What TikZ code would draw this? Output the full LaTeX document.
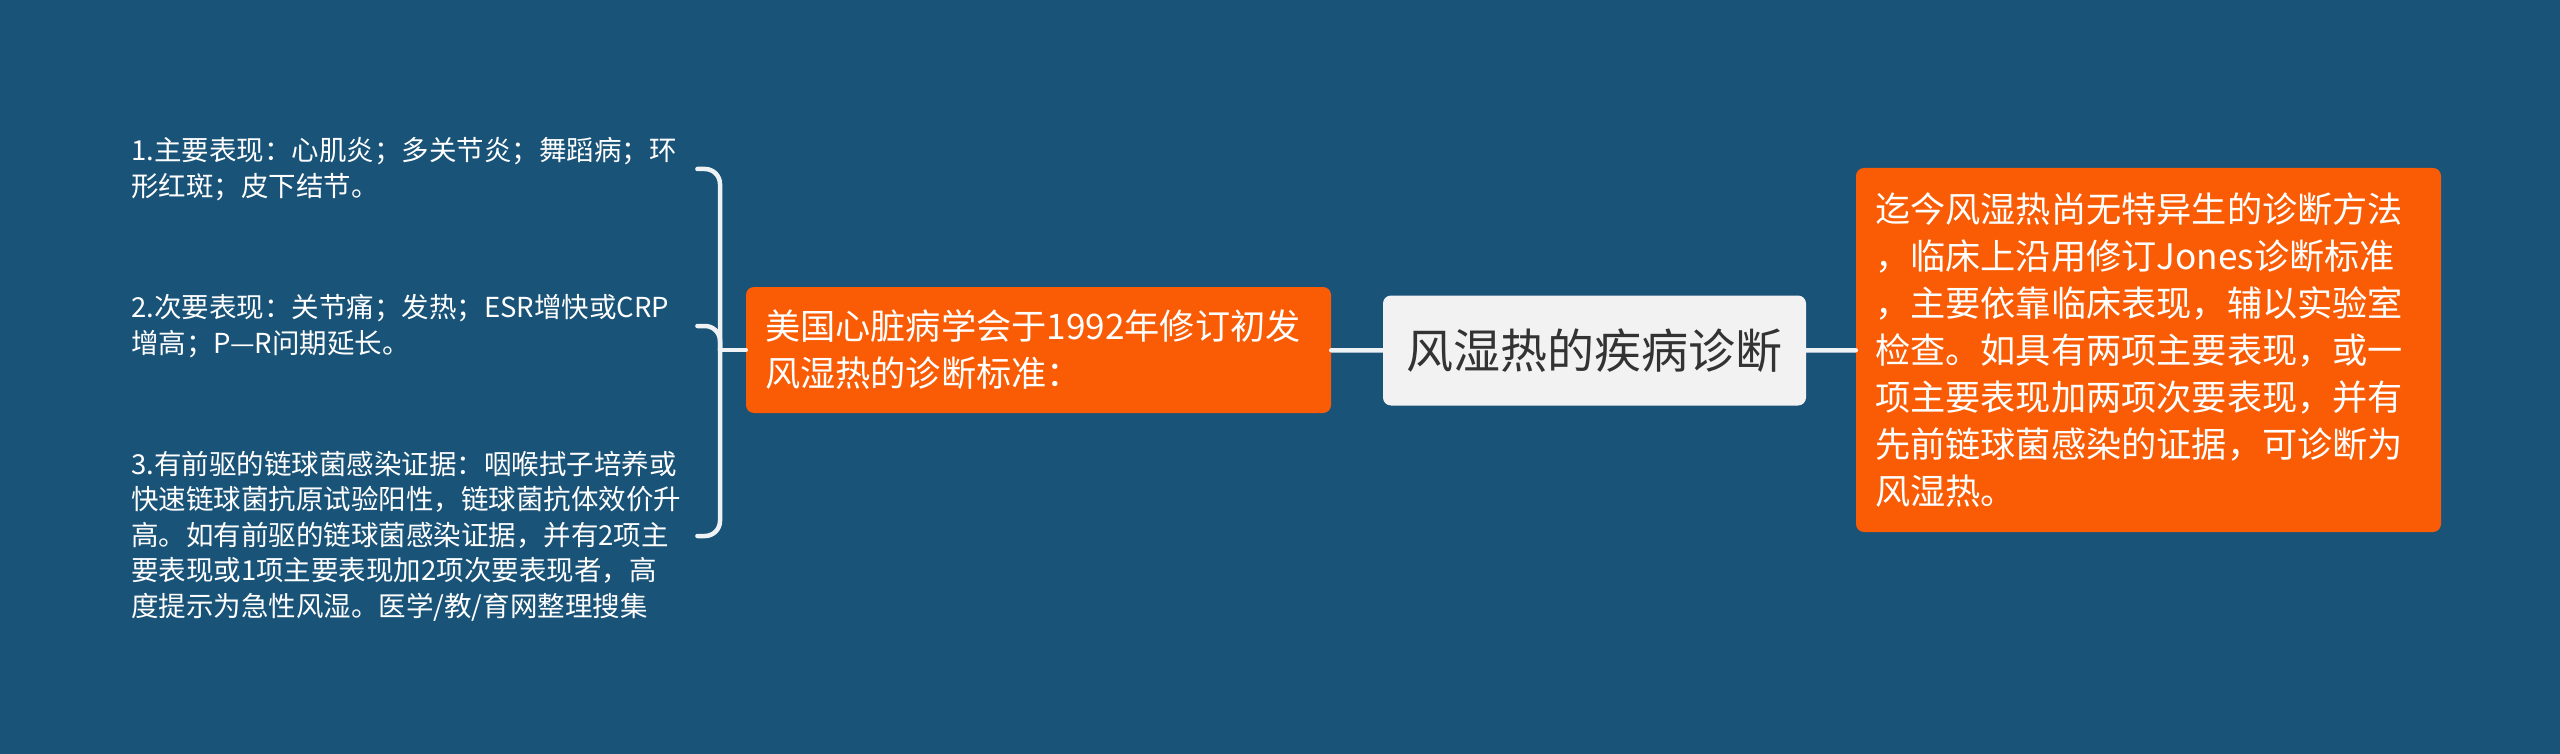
\documentclass[tikz,border=0pt]{standalone}
\usepackage{fontspec}
\setmainfont{Noto Sans CJK SC}
\definecolor{bgblue}{HTML}{1A5378}
\definecolor{topicorange}{HTML}{F95C04}
\definecolor{rootgray}{HTML}{F2F2F2}
\definecolor{roottext}{HTML}{333333}
\definecolor{linkwhite}{HTML}{EEF2F5}
\begin{document}
\begin{tikzpicture}[x=1pt, y=-1pt, line join=round, line cap=round,
  root/.style={fill=rootgray, text=roottext, rounded corners=8pt, minimum width=423pt, minimum height=110pt, inner sep=0pt, font=\fontsize{47}{56}\selectfont},
  topic/.style={fill=topicorange, text=white, rounded corners=8pt, inner xsep=19pt, inner ysep=0pt, align=left, font=\fontsize{35.2}{47}\selectfont},
  leaf/.style={text=white, anchor=west, inner sep=0pt, text width=566pt, align=left, font=\fontsize{27.5}{35.5}\selectfont},
  link/.style={draw=linkwhite, line width=4.5pt}]
\fill[bgblue] (0,0) rectangle (2560,754);
% main topic and the two boxes beside it
\node[root] (R) at (1594.5,350.5) {风湿热的疾病诊断};
\node[topic, text width=547pt, minimum height=126pt] (L) at (1038.5,350) {美国心脏病学会于1992年修订初发\\风湿热的诊断标准：};
\node[topic, text width=547pt, minimum height=364pt] (D) at (2148.5,350) {迄今风湿热尚无特异生的诊断方法\\，临床上沿用修订Jones诊断标准\\，主要依靠临床表现，辅以实验室\\检查。如具有两项主要表现，或一\\项主要表现加两项次要表现，并有\\先前链球菌感染的证据，可诊断为\\风湿热。};
% criteria on the left
\node[leaf] (a) at (131,169) {1.主要表现：心肌炎；多关节炎；舞蹈病；环\\形红斑；皮下结节。};
\node[leaf] (b) at (131,326) {2.次要表现：关节痛；发热；ESR增快或CRP\\增高；P—R问期延长。};
\node[leaf] (c) at (131,536) {3.有前驱的链球菌感染证据：咽喉拭子培养或\\快速链球菌抗原试验阳性，链球菌抗体效价升\\高。如有前驱的链球菌感染证据，并有2项主\\要表现或1项主要表现加2项次要表现者，高\\度提示为急性风湿。医学/教/育网整理搜集};
\coordinate (J) at (720,350);
\draw[link, rounded corners=15pt] (a.east) -| (J) |- (c.east);
\draw[link, rounded corners=15pt] (b.east) -| (J);
\draw[link] (J) -- (L.west);
\draw[link] (L) -- (R) (R) -- (D);
\end{tikzpicture}
\end{document}
